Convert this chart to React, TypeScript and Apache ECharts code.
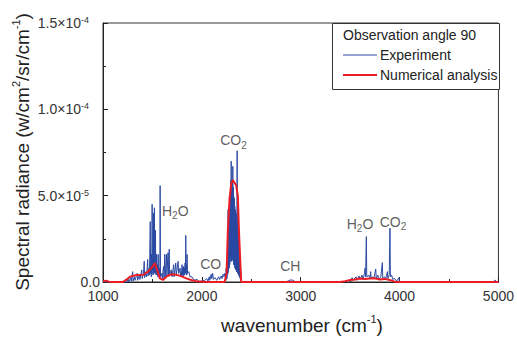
import React, { useEffect, useRef } from "react";
import * as echarts from "echarts";

// Experiment spectrum: [wavenumber cm^-1, radiance in 1e-5 W/cm2/sr/cm-1]
const experiment: [number, number][] = [
  [1000, 0], [1240, 0], [1255, 0.15], [1262, 0.02], [1280, 0.25], [1286, 0.05], [1300, 0.6], [1304, 0.05],
  [1318, 0.3], [1324, 0.1], [1345, 0.5], [1350, 0.1], [1368, 0.4], [1374, 0.15], [1392, 0.7], [1397, 0.2],
  [1410, 0.5], [1417, 1.2], [1421, 0.25], [1436, 0.6], [1441, 0.3], [1452, 1.3], [1456, 0.35], [1466, 0.8],
  [1470, 0.4], [1478, 3.5], [1482, 0.5], [1486, 1.0], [1488, 0.3], [1490, 1.6], [1494, 0.5], [1497, 4.5],
  [1501, 0.7], [1504, 1.2], [1506, 0.4], [1508, 1.3], [1510, 4.0], [1512, 0.6], [1514, 1.2], [1516, 0.5],
  [1518, 1.0], [1520, 4.3], [1522, 0.6], [1524, 1.3], [1526, 0.5], [1528, 1.1], [1531, 3.0], [1533, 0.5],
  [1535, 0.9], [1538, 0.4], [1542, 1.6], [1546, 0.5], [1552, 1.0], [1555, 0.3], [1558, 1.6], [1562, 0.5],
  [1570, 0.8], [1575, 0.2], [1578, 5.58], [1582, 0.3], [1595, 0.5], [1600, 0.2], [1612, 0.9], [1617, 0.2],
  [1625, 1.6], [1629, 0.3], [1642, 1.6], [1646, 0.3], [1658, 1.7], [1662, 0.4], [1670, 1.9], [1674, 0.4],
  [1690, 0.7], [1698, 0.3], [1715, 1.0], [1720, 0.3], [1736, 1.1], [1741, 0.4], [1760, 1.2], [1765, 0.5],
  [1780, 0.8], [1784, 0.3], [1788, 0.6], [1792, 0.3], [1800, 1.0], [1803, 0.4], [1806, 0.8], [1810, 0.3],
  [1816, 0.9], [1819, 0.4], [1822, 0.8], [1826, 0.4], [1830, 1.1], [1834, 0.5], [1837, 2.7], [1841, 0.6],
  [1845, 1.0], [1847, 0.4], [1850, 1.6], [1855, 0.5], [1868, 0.6], [1880, 0.3], [1900, 0.3], [1920, 0.1],
  [1950, 0.15], [1975, 0.03], [2000, 0.05], [2030, 0.1], [2050, 0.2], [2062, 0.05], [2075, 0.3], [2080, 0.1],
  [2095, 0.45], [2100, 0.2], [2110, 0.5], [2116, 0.15], [2135, 0.25], [2150, 0.1], [2170, 0.3], [2180, 0.15],
  [2195, 0.35], [2205, 0.2], [2215, 0.45], [2225, 0.3], [2232, 0.5], [2240, 0.4], [2244, 0.1], [2246, 0.8],
  [2248, 0.2], [2252, 0.6], [2254, 0.2], [2256, 1.2], [2258, 1.6], [2260, 0.4], [2263, 2.4], [2264, 0.5],
  [2266, 4.2], [2268, 0.6], [2270, 2.8], [2272, 0.8], [2274, 3.2], [2276, 3.6], [2278, 0.8], [2280, 4.8],
  [2282, 1.0], [2284, 4.2], [2286, 1.2], [2288, 5.0], [2290, 5.5], [2292, 1.5], [2294, 5.9], [2296, 1.2],
  [2297, 7.0], [2299, 1.5], [2301, 5.8], [2303, 1.2], [2305, 5.9], [2307, 1.5], [2309, 5.6], [2311, 1.3],
  [2313, 6.7], [2315, 1.4], [2317, 5.5], [2319, 1.2], [2321, 5.0], [2323, 1.0], [2325, 4.9], [2327, 1.0],
  [2329, 4.8], [2331, 0.9], [2333, 4.4], [2335, 0.8], [2337, 4.2], [2339, 0.8], [2341, 4.1], [2343, 0.7],
  [2345, 4.0], [2347, 0.7], [2349, 3.9], [2351, 0.6], [2353, 3.8], [2355, 0.6], [2357, 7.6], [2359, 0.6],
  [2361, 3.5], [2363, 0.5], [2365, 3.2], [2367, 0.5], [2369, 2.8], [2371, 0.4], [2373, 2.6], [2375, 0.4],
  [2377, 2.4], [2379, 0.3], [2381, 2.2], [2383, 0.3], [2385, 1.5], [2387, 0.2], [2389, 1.2], [2391, 1.1],
  [2393, 0.2], [2396, 0.3], [2400, 0], [2850, 0], [2880, 0.08], [2900, 0.12], [2920, 0.1], [2940, 0.03],
  [2960, 0], [3450, 0], [3480, 0.1], [3500, 0.05], [3520, 0.25], [3530, 0.1], [3560, 0.3], [3570, 0.1],
  [3590, 0.35], [3600, 0.15], [3620, 0.4], [3630, 0.15], [3645, 0.5], [3651, 0.8], [3656, 0.3], [3664, 2.63],
  [3668, 0.3], [3690, 0.4], [3700, 0.2], [3708, 0.6], [3712, 0.2], [3730, 0.3], [3740, 0.2], [3750, 0.5],
  [3759, 0.75], [3764, 0.2], [3780, 0.4], [3790, 0.15], [3810, 0.3], [3826, 1.12], [3830, 0.2], [3850, 0.3],
  [3860, 0.15], [3877, 0.6], [3882, 0.2], [3895, 0.4], [3903, 3.12], [3907, 0.3], [3920, 0.4], [3930, 0.15],
  [3950, 0.2], [3970, 0.05], [3994, 0.25], [3998, 0], [4960, 0], [4966, 0.12], [4972, 0], [5000, 0],
];

// Numerical analysis: [wavenumber, radiance in 1e-5]
const numerical: [number, number][] = [
  [1000, 0.05], [1030, 0.08], [1060, 0.02], [1100, 0], [1200, 0], [1240, 0.15], [1272, 0.31], [1340, 0.41],
  [1406, 0.42], [1457, 0.6], [1501, 0.89], [1524, 1.09], [1548, 0.69], [1575, 0.21], [1608, 0.12], [1642, 0.31],
  [1680, 0.42], [1710, 0.45], [1776, 0.37], [1843, 0.21], [1900, 0.1], [1944, 0.05], [2045, 0], [2230, 0],
  [2250, 0.5], [2263, 3.0], [2280, 4.8], [2297, 5.7], [2313, 5.9], [2347, 5.6], [2364, 5.0], [2375, 3.0],
  [2390, 1.0], [2398, 0], [3400, 0], [3450, 0.05], [3500, 0.12], [3550, 0.15], [3600, 0.2], [3650, 0.18],
  [3700, 0.2], [3750, 0.22], [3800, 0.15], [3850, 0.18], [3900, 0.12], [3950, 0.02], [4000, 0], [5000, 0],
];

// Band annotations
const bandLabels = ["H{s|2}O", "CO{s|2}", "CO", "CH", "H{s|2}O", "CO{s|2}"];
const bandWavenumber = [1731, 2320, 2089, 2895, 3600, 3933];
const bandRadiance = [4.13, 8.2, 1.02, 0.9, 3.37, 3.5];

const yTickLabels = ["0.0", "5.0×10{s|-5}", "1.0×10{s|-4}", "1.5×10{s|-4}"];
const legendTitle = "Observation angle 90";
const seriesNames = ["Experiment", "Numerical analysis"];

const FONT = "'Liberation Sans', Arial, sans-serif";
const SCALE = 1e-5;
const BLUE = "#2b4aa3";
const RED = "#ec1c24";

export default function App() {
  const ref = useRef<HTMLDivElement>(null);
  useEffect(() => {
    if (!ref.current) return;
    const chart = echarts.init(ref.current, undefined, { renderer: "svg" });
    const expData = experiment.map(([w, r]) => [w, r * SCALE]);
    const numData = numerical.map(([w, r]) => [w, r * SCALE]);
    const bandData = bandLabels.map((n, i) => ({ name: n, value: [bandWavenumber[i], bandRadiance[i] * SCALE] }));
    chart.setOption({
      animation: false,
      textStyle: { fontFamily: FONT },
      grid: { left: 103, right: 17, top: 23, bottom: 56, show: true, borderColor: "#333", borderWidth: 1, backgroundColor: "transparent" },
      xAxis: {
        type: "value",
        min: 1000,
        max: 5000,
        interval: 1000,
        axisLine: { show: true, lineStyle: { color: "#222", width: 1 } },
        axisTick: { show: true, inside: true, length: 5, lineStyle: { color: "#222" } },
        minorTick: { show: true, splitNumber: 2, length: 3, lineStyle: { color: "#222" } },
        splitLine: { show: false },
        axisLabel: { fontSize: 14, lineHeight: 12, color: "#333", margin: 8, fontFamily: FONT, formatter: (v: number) => String(v) },
      },
      yAxis: {
        type: "value",
        min: 0,
        max: 1.5e-4,
        interval: 5e-5,
        axisLine: { show: true, lineStyle: { color: "#222", width: 1 } },
        axisTick: { show: true, inside: true, length: 5, lineStyle: { color: "#222" } },
        minorTick: { show: true, splitNumber: 2, length: 3, lineStyle: { color: "#222" } },
        splitLine: { show: false },
        axisLabel: {
          fontSize: 14,
          color: "#333",
          margin: 3,
          lineHeight: 15,
          fontFamily: FONT,
          formatter: (v: number) => yTickLabels[Math.round(v / 5e-5)] ?? "",
          rich: { s: { fontSize: 9, lineHeight: 8, color: "#333", verticalAlign: "top", fontFamily: FONT, padding: [0, 11, 0, 0] } },
        },
      },
      series: [
        {
          name: seriesNames[0],
          type: "line",
          data: expData,
          showSymbol: false,
          symbol: "none",
          lineStyle: { color: BLUE, width: 1 },
          z: 2,
        },
        {
          name: seriesNames[1],
          type: "line",
          data: numData,
          showSymbol: false,
          symbol: "none",
          lineStyle: { color: RED, width: 2 },
          z: 3,
        },
        {
          type: "scatter",
          data: bandData,
          symbolSize: 0,
          silent: true,
          z: 4,
          label: {
            show: true,
            position: "inside",
            formatter: (p: any) => p.name,
            fontSize: 14,
            lineHeight: 20,
            color: "#333",
            fontFamily: FONT,
            rich: { s: { fontSize: 10, lineHeight: 10, color: "#333", verticalAlign: "bottom", fontFamily: FONT } },
          },
        },
      ],
      graphic: [
        {
          type: "text",
          x: 22,
          y: 152,
          rotation: Math.PI / 2,
          style: {
            text: "Spectral radiance (w/cm{s|2}/sr/cm{s|-1})",
            fontSize: 19,
            lineHeight: 24,
            fontFamily: FONT,
            fill: "#222",
            align: "center",
            verticalAlign: "middle",
            rich: { s: { fontSize: 11, lineHeight: 12, fill: "#222", verticalAlign: "top", fontFamily: FONT } },
          },
        },
        {
          type: "text",
          x: 302,
          y: 325,
          style: {
            text: "wavenumber (cm{s|-1})",
            fontSize: 19,
            lineHeight: 24,
            fontFamily: FONT,
            fill: "#222",
            align: "center",
            verticalAlign: "middle",
            rich: { s: { fontSize: 11, lineHeight: 12, fill: "#222", verticalAlign: "top", fontFamily: FONT } },
          },
        },
        {
          type: "group",
          z: 10,
          children: [
            { type: "rect", shape: { x: 332.5, y: 23.5, width: 167, height: 66 }, style: { fill: "#fff", stroke: "#333", lineWidth: 1 } },
            { type: "text", x: 343, y: 35, style: { text: legendTitle, fontSize: 14, fontFamily: FONT, fill: "#222", verticalAlign: "middle" } },
            { type: "line", shape: { x1: 343, y1: 55, x2: 377, y2: 55 }, style: { stroke: BLUE, lineWidth: 1 } },
            { type: "text", x: 380, y: 55, style: { text: seriesNames[0], fontSize: 14, fontFamily: FONT, fill: "#222", verticalAlign: "middle" } },
            { type: "line", shape: { x1: 343, y1: 75, x2: 377, y2: 75 }, style: { stroke: RED, lineWidth: 2 } },
            { type: "text", x: 380, y: 75, style: { text: seriesNames[1], fontSize: 14, fontFamily: FONT, fill: "#222", verticalAlign: "middle" } },
          ],
        },
      ],
    });
    return () => chart.dispose();
  }, []);
  return <div ref={ref} style={{ width: 517, height: 338, position: "absolute", left: 0, top: 0 }} />;
}
